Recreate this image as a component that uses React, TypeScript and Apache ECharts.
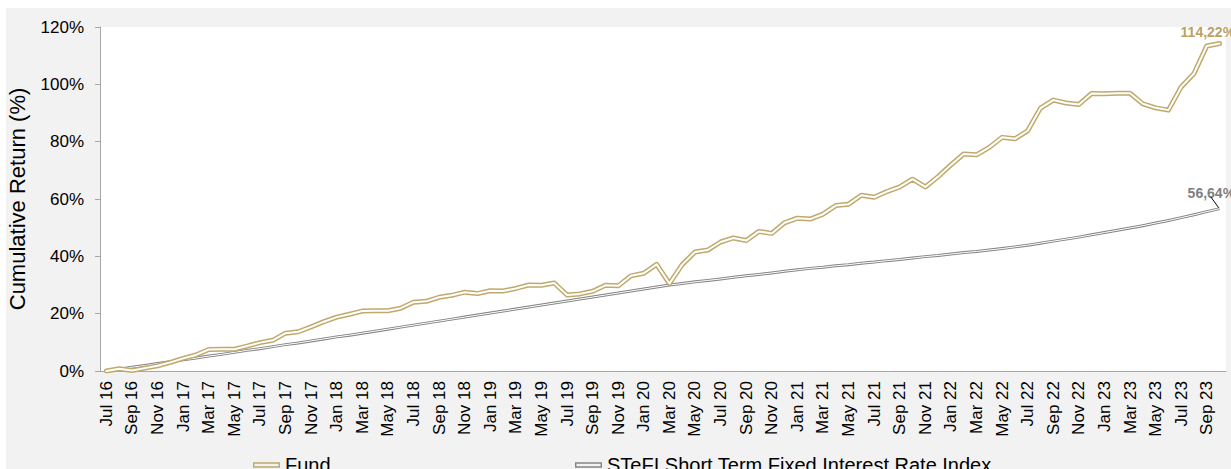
import React, { useEffect, useRef } from "react";
import * as echarts from "echarts";

const MONTHS = ["Jan", "Feb", "Mar", "Apr", "May", "Jun", "Jul", "Aug", "Sep", "Oct", "Nov", "Dec"];
// Monthly categories Jul 16 .. Oct 23
const categories: string[] = [];
for (let k = 0; k < 88; k++) {
  const m = (6 + k) % 12;
  const y = 16 + Math.floor((6 + k) / 12);
  categories.push(`${MONTHS[m]} ${y}`);
}

const fundName = "Fund";
const indexName = "STeFI Short Term Fixed Interest Rate Index";

const fundValues = [
  0, 0.8, 0.2, 1.0, 1.8, 3.0, 4.4, 5.6, 7.5, 7.6, 7.6, 8.7,
  9.9, 10.7, 13.2, 13.7, 15.4, 17.2, 18.8, 19.8, 20.9, 21.0, 21.0, 21.9,
  24.0, 24.3, 25.7, 26.4, 27.5, 27.0, 28.0, 27.9, 28.8, 30.0, 29.9, 30.7,
  26.5, 26.9, 27.8, 29.9, 29.7, 33.2, 34.1, 37.2, 30.5, 37.1, 41.5, 42.2,
  45.0, 46.4, 45.5, 48.7, 48.0, 51.7, 53.3, 53.0, 54.7, 57.7, 58.2, 61.3,
  60.6, 62.6, 64.2, 66.9, 64.2, 67.8, 71.9, 75.7, 75.4, 78.0, 81.5, 81.0,
  83.8, 91.7, 94.5, 93.5, 93.0, 96.8, 96.7, 96.9, 96.9, 93.2, 91.8, 91.0,
  99.1, 103.8, 113.4, 114.22,
];

const indexValues = [
  0, 0.6, 1.3, 1.9, 2.6, 3.2, 3.9, 4.5, 5.2, 5.8, 6.5, 7.2,
  7.8, 8.5, 9.2, 9.8, 10.5, 11.2, 11.9, 12.5, 13.2, 13.9, 14.6, 15.3,
  16.0, 16.7, 17.4, 18.1, 18.8, 19.5, 20.2, 20.9, 21.6, 22.3, 23.0, 23.7,
  24.4, 25.1, 25.8, 26.5, 27.2, 27.9, 28.6, 29.3, 30.0, 30.5, 31.1, 31.6,
  32.1, 32.7, 33.2, 33.7, 34.2, 34.8, 35.3, 35.8, 36.2, 36.7, 37.1, 37.6,
  38.0, 38.5, 38.9, 39.4, 39.9, 40.3, 40.8, 41.3, 41.7, 42.2, 42.7, 43.3,
  43.9, 44.6, 45.3, 46.0, 46.7, 47.5, 48.3, 49.1, 49.9, 50.7, 51.6, 52.5,
  53.5, 54.5, 55.6, 56.64,
];

const yTicks = { min: 0, max: 120, interval: 20 };

const FONT = "'Liberation Sans', Arial, sans-serif";
const GOLD = "#bfa96b";
const GREY = "#858585";

const fmt = (v: number) => v.toFixed(2).replace(".", ",") + "%";

const ICON = "path://M0,0H30V6H0Z M1.6,1.6V4.4H28.4V1.6Z";

export default function App() {
  const ref = useRef<HTMLDivElement>(null);
  useEffect(() => {
    if (!ref.current) return;
    const chart = echarts.init(ref.current, null, { renderer: "svg" });
    const endLabel = (color: string, offset: number[]) => ({
      show: true,
      formatter: (p: any) => fmt(Number(p.value)),
      color,
      fontWeight: "bold",
      fontSize: 14,
      fontFamily: FONT,
      offset,
    });
    chart.setOption({
      animation: false,
      backgroundColor: "#f2f2f2",
      textStyle: { fontFamily: FONT },
      grid: {
        left: 94,
        right: 5,
        top: 19,
        bottom: 98,
        show: true,
        backgroundColor: "#ffffff",
        borderWidth: 0,
        outerBoundsMode: "none",
      },
      legend: [
        {
          data: [fundName],
          left: 242,
          top: 442,
          icon: ICON,
          itemWidth: 27,
          itemHeight: 6,
          textStyle: { fontSize: 20, color: "#000", fontFamily: FONT },
        },
        {
          data: [indexName],
          left: 564,
          top: 442,
          icon: ICON,
          itemWidth: 27,
          itemHeight: 6,
          textStyle: { fontSize: 20, color: "#000", fontFamily: FONT },
        },
      ],
      xAxis: {
        type: "category",
        data: categories,
        boundaryGap: true,
        axisLine: { lineStyle: { color: "#a6a6a6", width: 1 } },
        axisTick: { interval: 1, length: 5, lineStyle: { color: "#a6a6a6" } },
        axisLabel: {
          interval: 1,
          rotate: 90,
          margin: 10,
          fontSize: 17,
          color: "#000",
          fontFamily: FONT,
        },
        splitLine: { show: false },
      },
      yAxis: {
        type: "value",
        min: yTicks.min,
        max: yTicks.max,
        interval: yTicks.interval,
        name: "Cumulative Return (%)",
        nameLocation: "middle",
        nameRotate: 90,
        nameGap: 72,
        nameTextStyle: { fontSize: 22, color: "#000", fontFamily: FONT },
        axisLine: { show: true, lineStyle: { color: "#a6a6a6", width: 1 } },
        axisTick: { show: true, length: 5, lineStyle: { color: "#a6a6a6" } },
        axisLabel: {
          formatter: "{value}%",
          fontSize: 17,
          color: "#000",
          margin: 16,
          fontFamily: FONT,
        },
        splitLine: { show: false },
      },
      series: [
        {
          name: indexName,
          type: "line",
          data: indexValues,
          symbol: "none",
          color: GREY,
          lineStyle: { color: GREY, width: 3, join: "round" },
          endLabel: endLabel("#808080", [-40, -16]),
          z: 2,
        },
        {
          name: "index-inner",
          type: "line",
          data: indexValues,
          symbol: "none",
          silent: true,
          lineStyle: { color: "#ffffff", width: 1, join: "round" },
          z: 3,
        },
        {
          name: fundName,
          type: "line",
          data: fundValues,
          symbol: "none",
          color: GOLD,
          lineStyle: { color: GOLD, width: 5, join: "round", cap: "round" },
          endLabel: endLabel("#b9a263", [-47, -12]),
          z: 4,
        },
        {
          name: "fund-inner",
          type: "line",
          data: fundValues,
          symbol: "none",
          silent: true,
          lineStyle: { color: "#ffffff", width: 2, join: "round", cap: "round" },
          z: 5,
        },
      ],
    });
    // leader line from the index end point to its label
    const last = indexValues.length - 1;
    const pt = chart.convertToPixel({ xAxisIndex: 0, yAxisIndex: 0 }, [last, indexValues[last]]) as number[];
    if (pt) {
      chart.setOption({
        graphic: [
          {
            type: "line",
            shape: { x1: pt[0] - 9, y1: pt[1] - 12, x2: pt[0] - 1, y2: pt[1] - 1 },
            style: { stroke: "#000", lineWidth: 1 },
            z: 10,
            silent: true,
          },
        ],
      });
    }
    return () => chart.dispose();
  }, []);
  return (
    <div
      ref={ref}
      style={{ position: "absolute", left: 6, top: 8, width: 1225, height: 461 }}
    />
  );
}
